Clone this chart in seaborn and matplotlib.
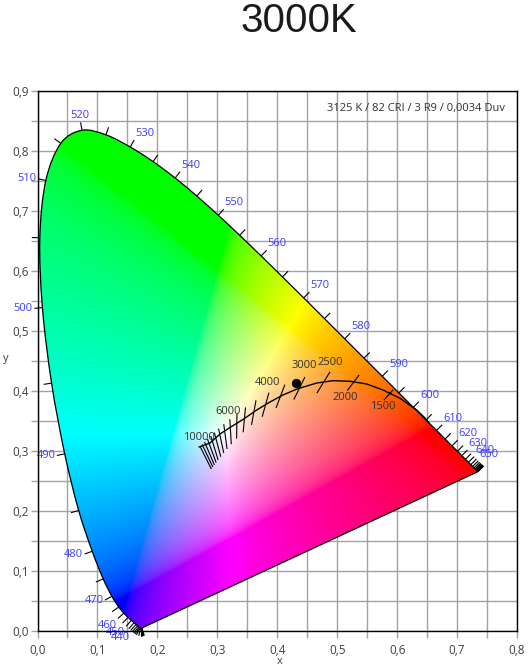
import numpy as np
import matplotlib
matplotlib.use("Agg")
import matplotlib.pyplot as plt
import seaborn as sns
from matplotlib.patches import PathPatch
from matplotlib.path import Path
from matplotlib.collections import LineCollection
from matplotlib.ticker import MultipleLocator, FuncFormatter

# ---------------- data ----------------
title_text = "3000K"
info_text = "3125 K / 82 CRI / 3 R9 / 0,0034 Duv"

# CIE 1931 spectral locus, 380..700 nm every 5 nm
wavelengths = list(range(380, 705, 5))
locus_x = [0.1741, 0.1740, 0.1738, 0.1736, 0.1733, 0.1730, 0.1726, 0.1721, 0.1714, 0.1703,
           0.1689, 0.1669, 0.1644, 0.1611, 0.1566, 0.1510, 0.1440, 0.1355, 0.1241, 0.1096,
           0.0913, 0.0687, 0.0454, 0.0235, 0.0082, 0.0039, 0.0139, 0.0389, 0.0743, 0.1142,
           0.1547, 0.1929, 0.2296, 0.2658, 0.3016, 0.3373, 0.3731, 0.4087, 0.4441, 0.4788,
           0.5125, 0.5448, 0.5752, 0.6029, 0.6270, 0.6482, 0.6658, 0.6801, 0.6915, 0.7006,
           0.7079, 0.7140, 0.7190, 0.7230, 0.7260, 0.7283, 0.7300, 0.7311, 0.7320, 0.7327,
           0.7334, 0.7340, 0.7344, 0.7346, 0.7347]
locus_y = [0.0050, 0.0050, 0.0049, 0.0049, 0.0048, 0.0048, 0.0048, 0.0048, 0.0051, 0.0058,
           0.0069, 0.0086, 0.0109, 0.0138, 0.0177, 0.0227, 0.0297, 0.0399, 0.0578, 0.0868,
           0.1327, 0.2007, 0.2950, 0.4127, 0.5384, 0.6548, 0.7502, 0.8120, 0.8338, 0.8262,
           0.8059, 0.7816, 0.7543, 0.7243, 0.6923, 0.6589, 0.6245, 0.5896, 0.5547, 0.5202,
           0.4866, 0.4544, 0.4242, 0.3965, 0.3725, 0.3514, 0.3340, 0.3197, 0.3083, 0.2993,
           0.2920, 0.2859, 0.2809, 0.2770, 0.2740, 0.2717, 0.2700, 0.2689, 0.2680, 0.2673,
           0.2666, 0.2660, 0.2656, 0.2654, 0.2653]
label_wavelengths = list(range(440, 660, 10))

# black-body curve as drawn in the picture
planck_curve_x = [0.2694, 0.2878, 0.3045, 0.3212, 0.3429, 0.3657, 0.3879, 0.4096, 0.4330,
                  0.4658, 0.4930, 0.5214, 0.5492, 0.5764, 0.6048, 0.6327, 0.6465, 0.6532]
planck_curve_y = [0.3064, 0.3130, 0.3280, 0.3389, 0.3522, 0.3680, 0.3813, 0.3930, 0.4030,
                  0.4129, 0.4168, 0.4158, 0.4113, 0.4013, 0.3875, 0.3680, 0.3547, 0.3463]

# isotemperature tick positions
iso_cct = [1500, 2000, 2500, 3000, 3500, 4000, 4500, 5000, 5500, 6000,
           6500, 7000, 7500, 8000, 8500, 9000, 9500, 10000]
iso_x = [0.5857, 0.5267, 0.4770, 0.4369, 0.4053, 0.3805, 0.3608, 0.3451, 0.3325, 0.3221,
         0.3135, 0.3064, 0.3004, 0.2952, 0.2908, 0.2869, 0.2836, 0.2807]
iso_y = [0.3931, 0.4133, 0.4137, 0.4041, 0.3907, 0.3768, 0.3636, 0.3516, 0.3411, 0.3318,
         0.3237, 0.3166, 0.3103, 0.3048, 0.3000, 0.2956, 0.2918, 0.2884]

cct_labels = ["10000", "6000", "4000", "3000", "2500", "2000", "1500"]
cct_label_x = [0.2694, 0.3178, 0.3846, 0.4446, 0.4880, 0.5130, 0.5764]
cct_label_y = [0.3230, 0.3647, 0.4146, 0.4413, 0.4479, 0.3880, 0.3730]

measured_x = [0.4307]
measured_y = [0.4134]

# ---------------- style ----------------
sns.set_theme(style="white")
plt.rcParams['font.family'] = ['Open Sans', 'DejaVu Sans']

W, H = 528, 670
fig = plt.figure(figsize=(W / 100, H / 100), dpi=100)
L, R, T, B = 37.5, 517.0, 90.5, 631.0
ax = fig.add_axes([L / W, 1 - B / H, (R - L) / W, (B - T) / H])
ax.set_xlim(0, 0.8)
ax.set_ylim(0, 0.9)

grid_c = '#a3a3a3'
ax.xaxis.set_major_locator(MultipleLocator(0.1))
ax.xaxis.set_minor_locator(MultipleLocator(0.05))
ax.yaxis.set_major_locator(MultipleLocator(0.1))
ax.yaxis.set_minor_locator(MultipleLocator(0.05))
fmt = FuncFormatter(lambda v, p: f"{v:.1f}".replace('.', ','))
ax.xaxis.set_major_formatter(fmt)
ax.yaxis.set_major_formatter(fmt)
ax.grid(which='both', color=grid_c, lw=1.0)
ax.set_axisbelow(True)
ax.tick_params(which='both', direction='out', length=5, width=1, color=grid_c,
               left=True, bottom=True, top=False, right=False,
               labelsize=8.5, labelcolor='#404040')
ax.tick_params(axis='x', which='major', pad=4)
ax.tick_params(axis='y', which='major', pad=1)
for s in ax.spines.values():
    s.set_color('black')
    s.set_linewidth(1.0)
    s.set_zorder(10)

# ---------------- smooth locus outline (Catmull-Rom through the data) ----------------
pts = np.column_stack([locus_x, locus_y])
verts = [pts[0]]
codes = [Path.MOVETO]
npt = len(pts)
for i in range(npt - 1):
    p0 = pts[max(i - 1, 0)]
    p1 = pts[i]
    p2 = pts[i + 1]
    p3 = pts[min(i + 2, npt - 1)]
    c1 = p1 + (p2 - p0) / 6.0
    c2 = p2 - (p3 - p1) / 6.0
    verts += [c1, c2, p2]
    codes += [Path.CURVE4] * 3
verts += [pts[0], pts[0]]
codes += [Path.LINETO, Path.CLOSEPOLY]
locus_path = Path(np.array(verts), codes)

# ---------------- colour fill ----------------
nx, ny = 640, 720
gx = np.linspace(0, 0.8, nx)
gy = np.linspace(0, 0.9, ny)
GX, GY = np.meshgrid(gx, gy)
GYs = np.maximum(GY, 1e-4)
Xc = GX / GYs
Yc = np.ones_like(GX)
Zc = (1 - GX - GY) / GYs
M = np.array([[3.2406, -1.5372, -0.4986],
              [-0.9689, 1.8758, 0.0415],
              [0.0557, -0.2040, 1.0570]])
XYZ = np.stack([Xc, Yc, Zc], axis=-1)
rgb = XYZ @ M.T
rgb = np.clip(rgb, 0, None)
rgb = rgb / np.maximum(rgb.max(axis=-1, keepdims=True), 1e-9)
rgb = np.where(rgb <= 0.0031308, 12.92 * rgb, 1.055 * np.power(rgb, 1 / 2.4) - 0.055)
rgb = np.clip(rgb, 0, 1)

im = ax.imshow(rgb, extent=(0, 0.8, 0, 0.9), origin='lower', aspect='auto',
               interpolation='bilinear', zorder=2)
patch = PathPatch(locus_path, transform=ax.transData, facecolor='none',
                  edgecolor='black', lw=0.9, zorder=3)
ax.add_patch(patch)
im.set_clip_path(patch)

# ---------------- wavelength ticks & labels ----------------
fig.canvas.draw()
P = ax.transData.transform(pts)
Wp = ax.transData.transform((0.3333, 0.3333))
inv = ax.transData.inverted()
segs = []
for i, wl in enumerate(wavelengths):
    a = P[min(i + 1, npt - 1)] - P[max(i - 1, 0)]
    nrm = np.hypot(*a)
    radial = P[i] - Wp
    if nrm < 1e-3:
        n = radial / np.hypot(*radial)
    else:
        n = np.array([-a[1], a[0]]) / nrm
        if np.dot(n, radial) < 0:
            n = -n
    segs.append([inv.transform(P[i]), inv.transform(P[i] + 8 * n)])
    if wl in label_wavelengths:
        pt = inv.transform(P[i] + 9.5 * n)
        ha = 'left' if n[0] > 0.3 else ('right' if n[0] < -0.3 else 'center')
        va = 'bottom' if n[1] > 0.5 else ('top' if n[1] < -0.5 else 'center')
        ax.text(pt[0], pt[1], str(wl), ha=ha, va=va, fontsize=8, color='#3c3cff',
                zorder=7, clip_on=False)
ax.add_collection(LineCollection(segs, colors='black', linewidths=0.8, zorder=4,
                                 clip_on=False))

# ---------------- black-body curve & isotherms ----------------
sns.lineplot(x=planck_curve_x, y=planck_curve_y, sort=False, estimator=None,
             color='black', lw=1.0, ax=ax, zorder=5)

ix = np.array(iso_x)
iy = np.array(iso_y)
den = -2 * ix + 12 * iy + 3
u = 4 * ix / den
v = 6 * iy / den
tu = np.gradient(u)
tv = np.gradient(v)
tn = np.hypot(tu, tv)
nu, nv = -tv / tn, tu / tn
eps = 0.002
iso_segs = []
for k in range(len(ix)):
    ends = []
    for sgn in (-1, 1):
        uu = u[k] + sgn * eps * nu[k]
        vv = v[k] + sgn * eps * nv[k]
        dd = 2 * uu - 8 * vv + 4
        ends.append(ax.transData.transform((3 * uu / dd, 2 * vv / dd)))
    c = ax.transData.transform((ix[k], iy[k]))
    dvec = ends[1] - ends[0]
    dvec = dvec / np.hypot(*dvec)
    half = 0.5 * min(25.0, 14.0 + (iso_cct[k] - 1500) / 90.0)
    iso_segs.append([inv.transform(c - half * dvec), inv.transform(c + half * dvec)])
ax.add_collection(LineCollection(iso_segs, colors='black', linewidths=0.8, zorder=5))

for lab, lx, ly in zip(cct_labels, cct_label_x, cct_label_y):
    ax.text(lx, ly, lab, ha='center', va='center', fontsize=8, color='#303030', zorder=7)

sns.scatterplot(x=measured_x, y=measured_y, s=38, color='black', edgecolor='black',
                ax=ax, zorder=6, legend=False)

# ---------------- texts ----------------
ax.text(0.975, 0.9676, info_text, transform=ax.transAxes, ha='right', va='center',
        fontsize=8, color='#303030', zorder=8)
ax.set_xlabel('x', fontsize=8, color='#404040')
ax.set_ylabel('y', fontsize=8, color='#404040', rotation=0)
ax.xaxis.set_label_coords((280 - L) / (R - L), (B - 662) / (B - T))
ax.yaxis.set_label_coords((6 - L) / (R - L), (B - 358) / (B - T))
ax.xaxis.label.set_verticalalignment('center')
ax.yaxis.label.set_verticalalignment('center')
ax.yaxis.label.set_horizontalalignment('center')

fig.text(298.7 / W, 1 - 31.7 / H, title_text, ha='center', va='baseline', fontsize=29,
         family=['Liberation Sans', 'DejaVu Sans'], color='#1a1a1a')

fig.savefig('out.png', dpi=100)
